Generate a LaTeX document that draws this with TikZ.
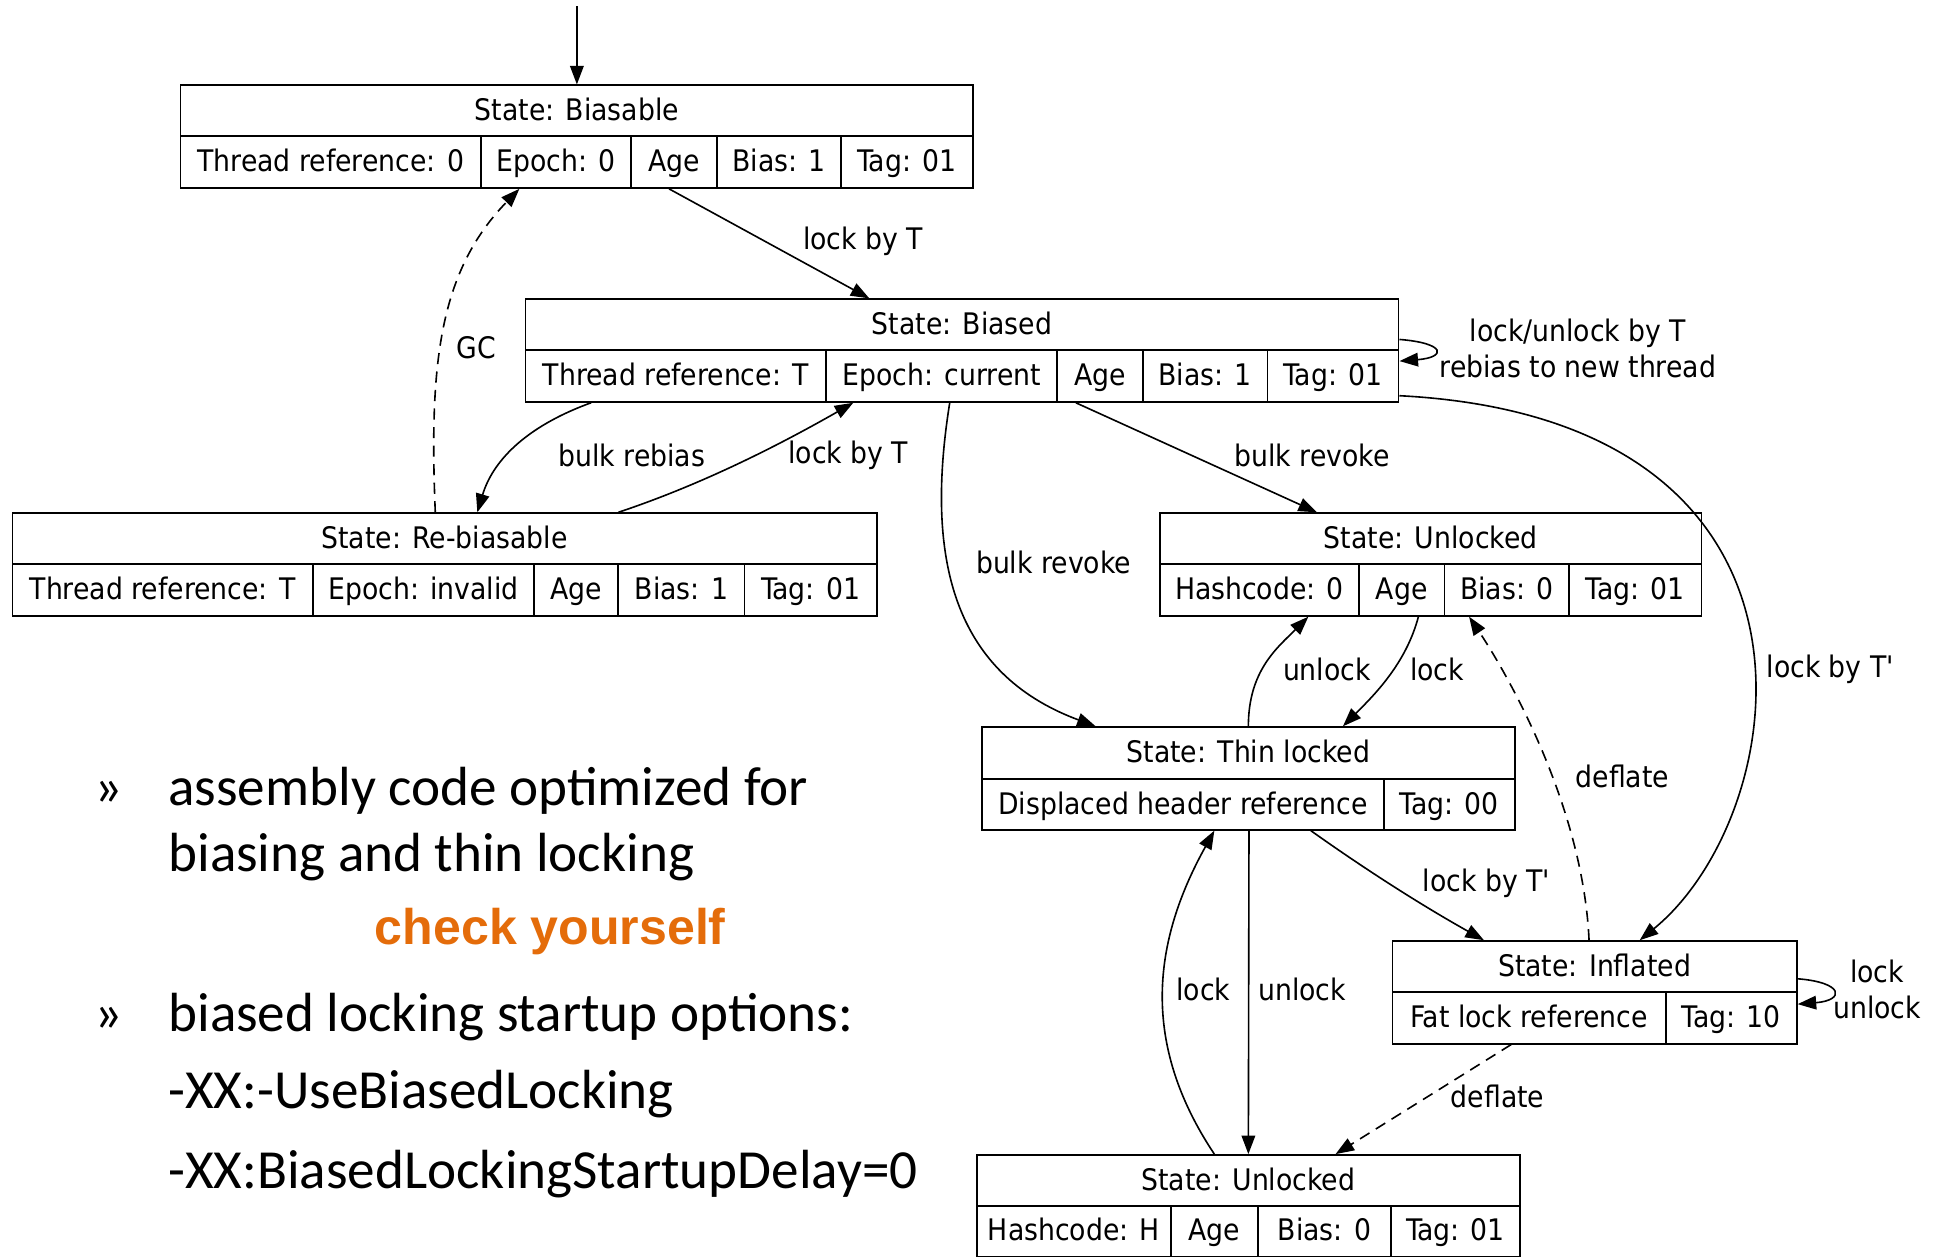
\documentclass[tikz,border=0pt]{standalone}
\usepackage{fontspec}
\usetikzlibrary{arrows.meta}
\newfontfamily\gvfont{DejaVu Sans Condensed}
\newfontfamily\slidefont{Carlito}
\newfontfamily\checkfont{Liberation Sans Bold}
\definecolor{chk}{RGB}{228,108,10}
\newcommand\gvcell[6]{\node[cell, minimum width={(#3)-(#2)}, minimum height={(#5)-(#4)}] (#1) at ({((#2)+(#3))/2},{((#4)+(#5))/2}) {#6};}
\tikzset{
  cell/.style={draw, line width=1.4pt, inner sep=0pt, text height=18.5pt, text depth=2.5pt, font=\gvfont\fontsize{24}{28}\selectfont},
  edge/.style={line width=1.3pt, -{Triangle[length=15pt,width=11pt]}},
  dashedge/.style={edge, dash pattern=on 9pt off 6pt},
  lbl/.style={font=\gvfont\fontsize{24}{29}\selectfont, align=center, inner sep=0pt},
  slide/.style={font=\slidefont\fontsize{44.6}{50}\selectfont, anchor=base west, inner sep=0pt},
  chkstyle/.style={font=\checkfont\fontsize{40.5}{46}\selectfont, text=chk, anchor=base west, inner sep=0pt}
}
\begin{document}
\begin{tikzpicture}[x=1pt,y=-1pt]
\useasboundingbox (0,0) rectangle (1568,1016);
% Biasable
\gvcell{b1t}{146}{787}{69}{110}{State: Biasable}
\gvcell{b1a}{146}{389}{110}{152}{Thread reference: 0}
\gvcell{b1b}{389}{510}{110}{152}{Epoch: 0}
\gvcell{b1c}{510}{580}{110}{152}{Age}
\gvcell{b1d}{580}{680}{110}{152}{Bias: 1}
\gvcell{b1e}{680}{787}{110}{152}{Tag: 01}
% Biased
\gvcell{b2t}{425}{1131}{242}{283}{State: Biased}
\gvcell{b2a}{425}{668}{283}{325}{Thread reference: T}
\gvcell{b2b}{668}{855}{283}{325}{Epoch: current}
\gvcell{b2c}{855}{924}{283}{325}{Age}
\gvcell{b2d}{924}{1025}{283}{325}{Bias: 1}
\gvcell{b2e}{1025}{1131}{283}{325}{Tag: 01}
% Re-biasable
\gvcell{b3t}{10}{709}{415}{456}{State: Re-biasable}
\gvcell{b3a}{10}{253}{456}{498}{Thread reference: T}
\gvcell{b3b}{253}{432}{456}{498}{Epoch: invalid}
\gvcell{b3c}{432}{500}{456}{498}{Age}
\gvcell{b3d}{500}{602}{456}{498}{Bias: 1}
\gvcell{b3e}{602}{709}{456}{498}{Tag: 01}
% Unlocked (top)
\gvcell{u1t}{938}{1376}{415}{456}{State: Unlocked}
\gvcell{u1a}{938}{1099}{456}{498}{Hashcode: 0}
\gvcell{u1b}{1099}{1168}{456}{498}{Age}
\gvcell{u1c}{1168}{1269}{456}{498}{Bias: 0}
\gvcell{u1d}{1269}{1376}{456}{498}{Tag: 01}
% Thin locked
\gvcell{tt}{794}{1225}{588}{630}{State: Thin locked}
\gvcell{ta}{794}{1119}{630}{671}{Displaced header reference}
\gvcell{tb}{1119}{1225}{630}{671}{Tag: 00}
% Inflated
\gvcell{ft}{1126}{1453}{761}{802}{State: Inflated}
\gvcell{fa}{1126}{1347}{802}{844}{Fat lock reference}
\gvcell{fb}{1347}{1453}{802}{844}{Tag: 10}
% Unlocked (bottom)
\gvcell{u2t}{790}{1229}{934}{975}{State: Unlocked}
\gvcell{u2a}{790}{947}{975}{1016}{Hashcode: H}
\gvcell{u2b}{947}{1017}{975}{1016}{Age}
\gvcell{u2c}{1017}{1125}{975}{1016}{Bias: 0}
\gvcell{u2d}{1125}{1229}{975}{1016}{Tag: 01}

% connectors
\coordinate (start) at (466.5,5);
\draw[edge] (start) -- (b1t.north);
\draw[edge] ([xshift=-4pt]b1c.south) -- ([xshift=-75pt]b2t.north)
  node[lbl] at (698,195) {lock by T};
\draw[edge] ([yshift=-12pt]b2t.east) .. controls +(38,3) and +(38,-3) .. ([yshift=12pt]b2e.east)
  node[lbl] at (1276,282) {lock/unlock by T\\rebias to new thread};
\draw[edge] ([xshift=-68.5pt]b2a.south) .. controls +(-55,20) and +(12,-40) .. ([xshift=26.5pt]b3t.north)
  node[lbl] at (511,368) {bulk rebias};
\draw[edge] ([xshift=140.5pt]b3t.north) .. controls +(60,-20) and +(-70,40) .. ([xshift=-71.5pt]b2b.south)
  node[lbl] at (686,368) {lock by T};
\draw[dashedge] ([xshift=-7.5pt]b3t.north) .. controls +(-5,-120) and +(-65,67) .. ([xshift=-29.5pt]b1b.south)
  node[lbl] at (385,281) {GC};
\draw[edge] ([xshift=6.5pt]b2b.south) .. controls +(-20,125) and +(-116,-43) .. ([xshift=-123.5pt]tt.north)
  node[lbl] at (852,455) {bulk revoke};
\draw[edge] ([xshift=-19.5pt]b2c.south) -- ([xshift=-92pt]u1t.north)
  node[lbl] at (1061,368) {bulk revoke};
\draw[edge] ([yshift=-16pt]b2e.east) .. controls +(369,19) and +(124,-101) .. ([xshift=36.5pt]ft.north)
  node[lbl] at (1480,541) {lock by T'};
\draw[edge] (tt.north) .. controls +(0,-45) and +(-25,25) .. ([xshift=39.5pt]u1a.south)
  node[lbl] at (1073,541) {unlock};
\draw[edge] ([xshift=13.5pt]u1b.south) .. controls +(-10,38) and +(25,-25) .. ([xshift=76.5pt]tt.north)
  node[lbl] at (1162,541) {lock};
\draw[dashedge] ([xshift=-4.5pt]ft.north) .. controls +(-5,-110) and +(30,45) .. ([xshift=-30.5pt]u1c.south)
  node[lbl] at (1312,628) {deflate};
\draw[edge] ([xshift=103.5pt]ta.south) .. controls +(45,32) and +(-50,-28) .. ([xshift=-89.5pt]ft.north)
  node[lbl] at (1202,714) {lock by T'};
\draw[edge] ([xshift=53.5pt]ta.south) -- (u2t.north)
  node[lbl] at (1053,800) {unlock};
\draw[edge] ([xshift=-27.5pt]u2t.north) .. controls +(-60,-90) and +(-50,90) .. ([xshift=25.5pt]ta.south)
  node[lbl] at (973,800) {lock};
\draw[dashedge] ([xshift=-14.5pt]fa.south) -- ([xshift=70.5pt]u2t.north)
  node[lbl] at (1211,887) {deflate};
\draw[edge] ([yshift=-10pt]ft.east) .. controls +(38,3) and +(38,-3) .. ([yshift=11pt]fb.east)
  node[lbl] at (1518,800) {lock\\unlock};

% slide text
\node[slide] (bul1) at (76,651) {»};
\node[slide] (t1) at (136,651) {assembly code optimized for};
\node[slide] (t2) at (136,705) {biasing and thin locking};
\node[chkstyle] (chk) at (303,764) {check yourself};
\node[slide] (bul2) at (76,834) {»};
\node[slide] (t3) at (136,834) {biased locking startup options:};
\node[slide] (t4) at (136,896) {-XX:-UseBiasedLocking};
\node[slide] (t5) at (136,961) {-XX:BiasedLockingStartupDelay=0};
\end{tikzpicture}
\end{document}
